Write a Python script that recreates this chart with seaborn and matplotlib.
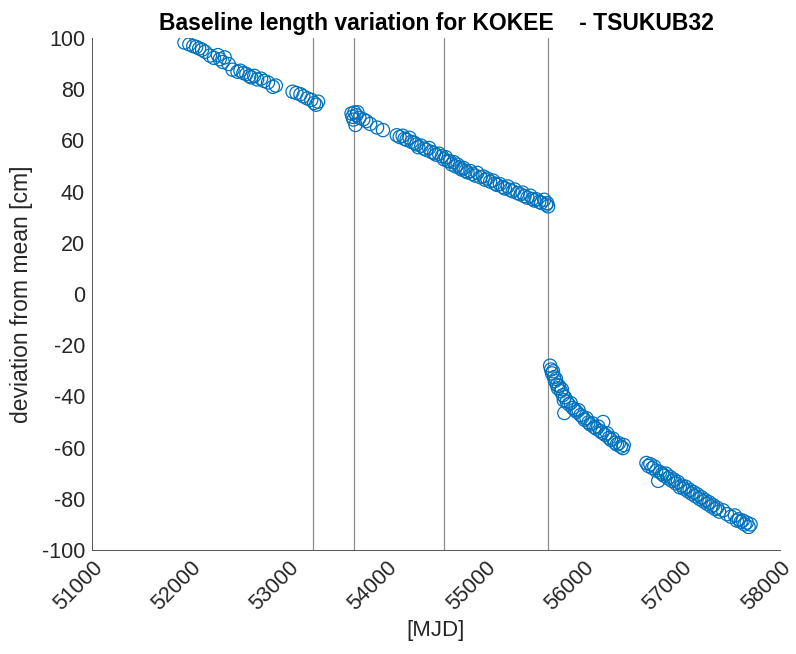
import matplotlib
matplotlib.use("Agg")
import matplotlib.pyplot as plt
import seaborn as sns
import pandas as pd

# Segment 1
mjd1 = [51940, 51990, 52030, 52060, 52090, 52120, 52150, 52200, 52240, 52280, 52300, 52330,
        52350, 52390, 52430, 52480, 52510, 52540, 52570, 52600, 52620, 52650, 52680, 52720,
        52750, 52790, 52840, 52870, 53040, 53080, 53120, 53150, 53190, 53230, 53260, 53280, 53300]
dev1 = [98.2, 97.5, 96.8, 96.5, 95.9, 95.4, 94.6, 93.1, 92.2, 93.3, 91.7, 90.6,
        92.4, 89.8, 87.6, 86.8, 87.2, 86.3, 85.9, 85.1, 84.6, 85.2, 83.8, 84.1,
        83.2, 82.6, 80.9, 81.4, 79.0, 78.5, 78.0, 77.2, 76.4, 75.8, 74.6, 73.9, 75.1]

# Segment 2
mjd2 = [53640, 53650, 53660, 53670, 53680, 53690, 53700, 53720, 53760, 53790, 53830, 53900,
        53960, 54100, 54130, 54160, 54180, 54200, 54230, 54250, 54280, 54300, 54320, 54350,
        54380, 54400, 54430, 54450, 54480, 54500, 54530, 54560, 54580, 54600, 54620, 54640,
        54660, 54680, 54700, 54720, 54740, 54760, 54780, 54800, 54820, 54850, 54870, 54900,
        54920, 54950, 54980, 55000, 55020, 55050, 55080, 55100, 55120, 55150, 55180, 55200,
        55230, 55250, 55280, 55300, 55330, 55360, 55380, 55400, 55430, 55460, 55480, 55500,
        55520, 55550, 55570, 55600, 55620, 55630, 55640]
dev2 = [70.5, 69.2, 68.1, 70.9, 66.0, 69.8, 71.0, 68.8, 68.2, 67.5, 66.4, 65.0,
        64.0, 62.0, 61.3, 61.8, 60.6, 60.2, 61.0, 59.4, 59.0, 58.4, 57.3, 57.9,
        56.8, 56.3, 57.0, 55.5, 55.0, 54.4, 54.8, 53.8, 52.6, 53.4, 52.0, 51.8,
        50.6, 51.5, 49.8, 50.5, 49.4, 48.6, 49.2, 48.1, 47.5, 48.0, 46.9, 46.2,
        47.3, 45.6, 45.9, 44.6, 45.1, 43.9, 44.3, 43.1, 42.6, 42.9, 41.8, 41.2,
        42.0, 40.7, 40.1, 40.8, 39.4, 38.9, 39.6, 38.2, 37.6, 38.4, 37.1, 36.5,
        37.0, 36.0, 35.6, 36.8, 34.9, 35.5, 34.2]

# Segment 3
mjd3 = [55660, 55670, 55680, 55690, 55700, 55710, 55720, 55730, 55740, 55750, 55770, 55780,
        55790, 55800, 55805, 55810, 55830, 55850, 55870, 55890, 55910, 55930, 55950, 55970,
        55990, 56010, 56030, 56050, 56070, 56090, 56110, 56130, 56150, 56170, 56190, 56200,
        56220, 56240, 56260, 56280, 56300, 56320, 56340, 56360, 56380, 56400, 56410]
dev3 = [-28.0, -29.5, -31.0, -30.2, -32.5, -34.0, -33.2, -35.5, -36.8, -35.9, -38.0, -37.2,
        -39.5, -41.5, -46.5, -40.3, -42.0, -43.1, -42.6, -44.5, -45.2, -46.0, -45.4, -47.3,
        -48.0, -49.1, -48.5, -50.2, -51.0, -50.5, -52.0, -52.6, -51.8, -53.5, -54.2, -50.0,
        -55.0, -54.4, -56.2, -57.0, -56.5, -58.1, -58.8, -58.3, -59.6, -60.2, -59.0]

# Segment 4
mjd4 = [56640, 56660, 56680, 56700, 56720, 56740, 56760, 56780, 56800, 56820, 56840, 56860,
        56880, 56900, 56920, 56940, 56960, 56980, 57000, 57020, 57040, 57060, 57080, 57100,
        57120, 57140, 57160, 57180, 57200, 57220, 57240, 57260, 57280, 57300, 57320, 57340,
        57360, 57380, 57420, 57460, 57500, 57540, 57560, 57580, 57600, 57620, 57640, 57660,
        57680, 57700]
dev4 = [-66.0, -67.2, -66.5, -68.0, -67.4, -69.0, -73.0, -69.6, -70.3, -71.0, -70.2, -72.0,
        -71.4, -73.0, -72.5, -74.0, -73.4, -75.5, -74.8, -76.0, -75.3, -77.0, -76.5, -78.0,
        -77.4, -79.0, -78.3, -80.0, -79.4, -81.0, -80.5, -82.0, -81.4, -83.0, -82.5, -84.0,
        -83.5, -85.0, -84.5, -86.0, -87.0, -86.5, -88.5, -88.0, -89.0, -88.5, -90.0, -89.3,
        -91.0, -90.0]

breaks = [53250, 53665, 54577, 55638]
xticks = [51000, 52000, 53000, 54000, 55000, 56000, 57000, 58000]
yticks = [-100, -80, -60, -40, -20, 0, 20, 40, 60, 80, 100]

df = pd.DataFrame({"mjd": mjd1 + mjd2 + mjd3 + mjd4,
                   "dev": dev1 + dev2 + dev3 + dev4})

sns.set_style("white")
plt.rcParams["font.family"] = ["Liberation Sans", "DejaVu Sans"]
plt.rcParams["xtick.direction"] = "in"
plt.rcParams["ytick.direction"] = "in"

fig = plt.figure(figsize=(7.96, 6.54), dpi=100)
ax = fig.add_axes([0.1156, 0.159, 0.8644, 0.783])

for b in breaks:
    ax.axvline(b, color="#8c8c8c", lw=0.9, zorder=1)

sns.scatterplot(data=df, x="mjd", y="dev", ax=ax, marker="o", s=90,
                facecolors="none", edgecolor="#0072BD", linewidth=0.9, zorder=2)

ax.set_xlim(51000, 58000)
ax.set_ylim(-100, 100)
ax.set_xticks(xticks)
ax.set_yticks(yticks)
ax.set_xticklabels([str(t) for t in xticks], rotation=45, ha="right",
                   rotation_mode="anchor", fontsize=15.5, color="#262626")
ax.set_yticklabels([str(t) for t in yticks], fontsize=15.5, color="#262626")
ax.tick_params(axis="both", length=5, width=0.6, color="#555555", pad=5)
for side in ["top", "right"]:
    ax.spines[side].set_visible(False)
for side in ["left", "bottom"]:
    ax.spines[side].set_color("#555555")
    ax.spines[side].set_linewidth(0.7)

ax.set_xlabel("[MJD]", fontsize=16, color="#262626", labelpad=4)
ax.set_ylabel("deviation from mean [cm]", fontsize=16.5, color="#262626", labelpad=6)
ax.set_title("Baseline length variation for KOKEE    - TSUKUB32",
             fontsize=16.5, fontweight="bold", color="black", pad=6)

fig.savefig("out.png", dpi=100)
